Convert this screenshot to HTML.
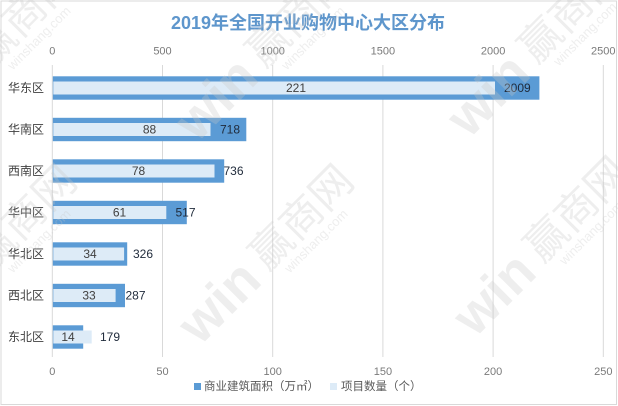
<!DOCTYPE html>
<html>
<head>
<meta charset="utf-8">
<style>
html,body{margin:0;padding:0;background:#fff;}
svg{display:block;}
text{font-family:"Liberation Sans","Noto Sans CJK SC",sans-serif;}
</style>
</head>
<body>
<svg width="618" height="406" viewBox="0 0 618 406" xmlns="http://www.w3.org/2000/svg">
<rect x="0" y="0" width="618" height="406" fill="#ffffff"/>
<rect x="1" y="1" width="615.5" height="403.5" fill="none" stroke="#d9d9d9" stroke-width="1"/>

<!-- Title -->
<text x="308" y="23" font-size="18" font-weight="bold" fill="#5e96cc" text-anchor="middle" dominant-baseline="central">2019年全国开业购物中心大区分布</text>

<!-- gridlines -->
<g stroke="#d9d9d9" stroke-width="1">
<line x1="52.3" y1="65" x2="52.3" y2="357"/>
<line x1="162.5" y1="65" x2="162.5" y2="357"/>
<line x1="272.7" y1="65" x2="272.7" y2="357"/>
<line x1="382.9" y1="65" x2="382.9" y2="357"/>
<line x1="493.1" y1="65" x2="493.1" y2="357"/>
<line x1="603.3" y1="65" x2="603.3" y2="357"/>
</g>

<!-- top axis labels -->
<g font-size="11" fill="#7a7a7a" text-anchor="middle" dominant-baseline="central">
<text x="52.3" y="51.5">0</text>
<text x="162.5" y="51.5">500</text>
<text x="272.7" y="51.5">1000</text>
<text x="382.9" y="51.5">1500</text>
<text x="493.1" y="51.5">2000</text>
<text x="603.3" y="51.5">2500</text>
</g>
<!-- bottom axis labels -->
<g font-size="11" fill="#7a7a7a" text-anchor="middle" dominant-baseline="central">
<text x="52.3" y="372">0</text>
<text x="162.5" y="372">50</text>
<text x="272.7" y="372">100</text>
<text x="382.9" y="372">150</text>
<text x="493.1" y="372">200</text>
<text x="603.3" y="372">250</text>
</g>

<!-- category labels -->
<g font-size="12" fill="#404040" text-anchor="end" dominant-baseline="central">
<text x="44" y="88">华东区</text>
<text x="44" y="129.5">华南区</text>
<text x="44" y="171">西南区</text>
<text x="44" y="212.5">华中区</text>
<text x="44" y="254">华北区</text>
<text x="44" y="295.5">西北区</text>
<text x="44" y="337">东北区</text>
</g>

<!-- dark bars (count, bottom axis) -->
<g fill="#5b9bd5">
<rect x="52.8" y="76.3" width="486.6" height="23.4"/>
<rect x="52.8" y="117.8" width="193.5" height="23.4"/>
<rect x="52.8" y="159.3" width="171.4" height="23.4"/>
<rect x="52.8" y="200.8" width="134.0" height="23.4"/>
<rect x="52.8" y="242.3" width="74.4" height="23.4"/>
<rect x="52.8" y="283.8" width="72.2" height="23.4"/>
<rect x="52.8" y="325.3" width="30.4" height="23.4"/>
</g>
<!-- light bars (area, top axis) -->
<g fill="#ddebf7">
<rect x="53.3" y="81.5" width="441.7" height="13"/>
<rect x="53.3" y="123" width="157.2" height="13"/>
<rect x="53.3" y="164.5" width="161.2" height="13"/>
<rect x="53.3" y="206" width="113.0" height="13"/>
<rect x="53.3" y="247.5" width="70.8" height="13"/>
<rect x="53.3" y="289" width="62.3" height="13"/>
<rect x="53.3" y="330.5" width="38.4" height="13"/>
</g>

<!-- count labels centered on dark bars -->
<g font-size="12" fill="#404040" text-anchor="middle" dominant-baseline="central">
<text x="296" y="88">221</text>
<text x="149.5" y="129.5">88</text>
<text x="138.5" y="171">78</text>
<text x="119.5" y="212.5">61</text>
<text x="90" y="254">34</text>
<text x="89" y="295.5">33</text>
<text x="68" y="337">14</text>
</g>
<!-- area labels after light bars -->
<g font-size="12" fill="#1f2a3a" text-anchor="start" dominant-baseline="central">
<text x="504" y="88">2009</text>
<text x="220" y="129.5">718</text>
<text x="223.5" y="171">736</text>
<text x="175.5" y="212.5">517</text>
<text x="133" y="254">326</text>
<text x="125.5" y="295.5">287</text>
<text x="100" y="337">179</text>
</g>

<!-- legend -->
<rect x="194" y="383" width="7" height="7" fill="#5b9bd5"/>
<text x="204" y="387" font-size="11.5" fill="#595959" dominant-baseline="central">商业建筑面积（万㎡）</text>
<rect x="330" y="383" width="7" height="7" fill="#ddebf7"/>
<text x="341" y="387" font-size="11.5" fill="#595959" dominant-baseline="central">项目数量（个）</text>

<!-- watermarks -->
<g fill="#c8c8c8" fill-opacity="0.3">
<g transform="translate(-24,62) rotate(-45)">
<text x="-5" y="20" font-size="54" font-weight="bold" text-anchor="end">win</text>
<text x="5" y="15" font-size="42">赢商网</text>
<text x="20" y="32" font-size="13">winshang.com</text>
</g>
<g transform="translate(250,62) rotate(-45)">
<text x="-5" y="20" font-size="54" font-weight="bold" text-anchor="end">win</text>
<text x="5" y="15" font-size="42">赢商网</text>
<text x="20" y="32" font-size="13">winshang.com</text>
</g>
<g transform="translate(522,58) rotate(-45)">
<text x="-5" y="20" font-size="54" font-weight="bold" text-anchor="end">win</text>
<text x="5" y="15" font-size="42">赢商网</text>
<text x="20" y="32" font-size="13">winshang.com</text>
</g>
<g transform="translate(-24,265) rotate(-45)">
<text x="-5" y="20" font-size="54" font-weight="bold" text-anchor="end">win</text>
<text x="5" y="15" font-size="42">赢商网</text>
<text x="20" y="32" font-size="13">winshang.com</text>
</g>
<g transform="translate(253,265) rotate(-45)">
<text x="-5" y="20" font-size="54" font-weight="bold" text-anchor="end">win</text>
<text x="5" y="15" font-size="42">赢商网</text>
<text x="20" y="32" font-size="13">winshang.com</text>
</g>
<g transform="translate(528,257) rotate(-45)">
<text x="-5" y="20" font-size="54" font-weight="bold" text-anchor="end">win</text>
<text x="5" y="15" font-size="42">赢商网</text>
<text x="20" y="32" font-size="13">winshang.com</text>
</g>
</g>
</svg>
</body>
</html>
